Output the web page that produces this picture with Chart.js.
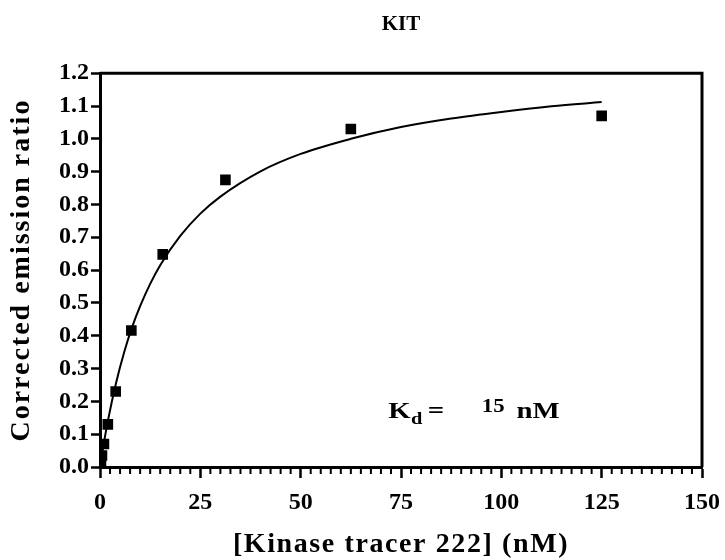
<!DOCTYPE html>
<html>
<head>
<meta charset="utf-8">
<script src="https://cdn.jsdelivr.net/npm/chart.js@4.4.0/dist/chart.umd.min.js"></script>
<style>
html,body{margin:0;padding:0;background:#fff;}
</style>
</head>
<body>
<canvas id="chart" width="725" height="560"></canvas>
<script>
// measured points: tracer concentration (nM) vs corrected emission ratio
var tracer_nM=[125,62.5,31.25,15.63,7.81,3.91,1.95,0.98,0.49,0.24,0.12];
var emission=[1.07,1.03,0.875,0.648,0.416,0.23,0.13,0.07,0.035,0.016,0.008];
// fitted curve
var fit_x=[0,1,2,4,6,8,10,12.5,15,20,25,30,40,50,62.5,75,87.5,100,112.5,125];
var fit_y=[0,0.076,0.143,0.256,0.349,0.426,0.49,0.558,0.615,0.704,0.772,0.824,0.901,0.954,1.0,1.036,1.062,1.082,1.099,1.112];
var x_ticks=[0,25,50,75,100,125,150];
var y_ticks=[0,0.1,0.2,0.3,0.4,0.5,0.6,0.7,0.8,0.9,1.0,1.1,1.2];
var x_title='[Kinase tracer 222] (nM)';
var y_title='Corrected emission ratio';
var serif="'Liberation Serif','Times New Roman',serif";

function pairs(xs,ys)
{
  var out=[];
  for(var i=0;i<xs.length;i++) out.push({x:xs[i],y:ys[i]});
  return out;
}

var framePlugin={
  id:'frame',
  afterDraw:function(chart){
    var a=chart.chartArea, c=chart.ctx;
    c.save();
    c.strokeStyle='#000';
    c.lineWidth=3;
    c.beginPath();
    c.moveTo(a.left,a.top);
    c.lineTo(a.right,a.top);
    c.lineTo(a.right,a.bottom);
    c.stroke();
    // minor ticks on x axis
    var xs=chart.scales.x;
    c.lineWidth=2;
    for(var i=1;i<60;i++){
      if(i%10===0) continue;
      var px=xs.getPixelForValue(i*2.5);
      c.beginPath();
      c.moveTo(px,a.bottom);
      c.lineTo(px,a.bottom+7);
      c.stroke();
    }
    c.restore();
  }
};

// axis titles drawn by hand so that the wide letter spacing can be copied
var titlePlugin={
  id:'axistitles',
  afterDraw:function(chart){
    var a=chart.chartArea, c=chart.ctx;
    c.save();
    c.fillStyle='#000';
    c.textAlign='center';
    c.textBaseline='middle';
    c.font="bold 28px "+serif;
    c.letterSpacing='1.6px';
    c.fillText(x_title,(a.left+a.right)/2+0,545);
    c.letterSpacing='2px';
    c.translate(22,(a.top+a.bottom)/2);
    c.rotate(-Math.PI/2);
    c.fillText(y_title,0,0);
    c.restore();
  }
};

var kdPlugin={
  id:'kdlabel',
  afterDraw:function(chart){
    var c=chart.ctx;
    var px=chart.scales.x.getPixelForValue(71.8);
    var py=chart.scales.y.getPixelForValue(0.148);
    c.save();
    c.fillStyle='#000';
    c.textBaseline='alphabetic';
    c.translate(px,py);
    c.scale(1.2,1);
    c.font="bold 24px "+serif;
    c.fillText('K',0,0);
    c.font="bold 17px "+serif;
    c.fillText('d',19,6);
    c.font="bold 24px "+serif;
    c.fillText('=',33,0);
    c.font="bold 19px "+serif;
    c.fillText('15',78,-6);
    c.font="bold 24px "+serif;
    c.fillText('nM',107,0);
    c.restore();
  }
};

var ctx=document.getElementById('chart').getContext('2d');
var chart=new Chart(ctx,{
  type:'scatter',
  data:{
    datasets:[
      {
        label:'fit',
        data:pairs(fit_x,fit_y),
        showLine:true,
        borderColor:'#000',
        borderWidth:2,
        pointRadius:0,
        cubicInterpolationMode:'monotone',
        fill:false
      },
      {
        label:'KIT',
        data:pairs(tracer_nM,emission),
        pointStyle:'rect',
        pointRadius:7.5,
        backgroundColor:'#000',
        borderColor:'#000',
        borderWidth:0
      }
    ]
  },
  options:{
    responsive:false,
    animation:false,
    devicePixelRatio:1,
    layout:{padding:{right:23}},
    plugins:{
      legend:{display:false},
      tooltip:{enabled:false},
      title:{
        display:true,
        text:'KIT',
        fullSize:false,
        color:'#000',
        font:{family:serif,size:21,weight:'bold'},
        padding:{top:12,bottom:36}
      }
    },
    scales:{
      x:{
        type:'linear',
        min:0,max:150,
        afterBuildTicks:function(s){ s.ticks=x_ticks.map(function(v){return {value:v};}); },
        afterFit:function(s){ s.height=93; s.paddingLeft=0; s.paddingRight=0; },
        ticks:{color:'#000',font:{family:serif,size:24,weight:'bold'},padding:10,maxRotation:0,autoSkip:false},
        grid:{display:true,drawOnChartArea:false,drawTicks:true,tickLength:11,tickWidth:2.5,tickColor:'#000'},
        border:{display:true,color:'#000',width:3},
        title:{display:false}
      },
      y:{
        type:'linear',
        min:0,max:1.2,
        afterBuildTicks:function(s){ s.ticks=y_ticks.map(function(v){return {value:v};}); },
        afterFit:function(s){ s.width=100; s.paddingTop=0; s.paddingBottom=0; },
        ticks:{color:'#000',font:{family:serif,size:24,weight:'bold'},padding:2,autoSkip:false,
          callback:function(v){ return Number(v).toFixed(1); }},
        grid:{display:true,drawOnChartArea:false,drawTicks:true,tickLength:9,tickWidth:2.5,tickColor:'#000'},
        border:{display:true,color:'#000',width:3},
        title:{display:false}
      }
    }
  },
  plugins:[framePlugin,titlePlugin,kdPlugin]
});
</script>
</body>
</html>
